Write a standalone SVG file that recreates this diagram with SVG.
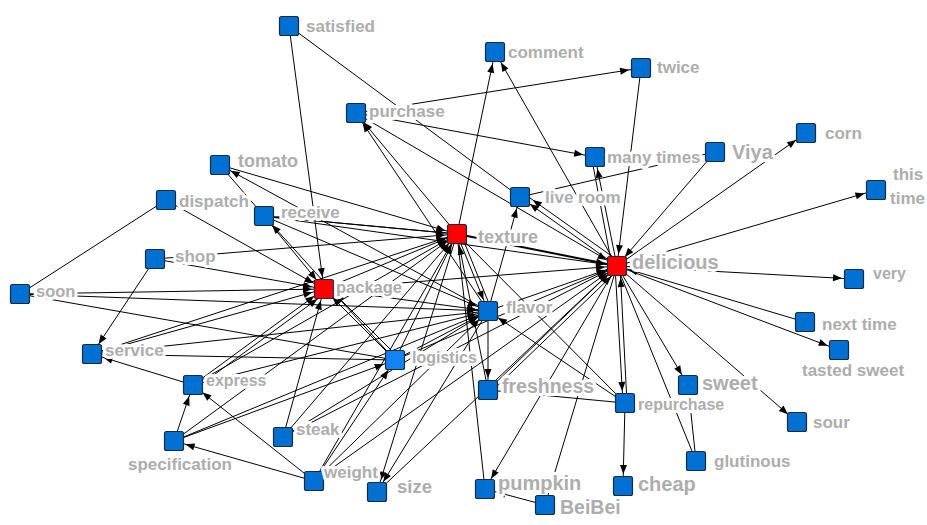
<svg xmlns="http://www.w3.org/2000/svg" width="927" height="525" viewBox="0 0 927 525">
<style>
.e{stroke:#000;stroke-width:1;fill:none}
.a{marker-end:url(#ah)}
.w{stroke-width:2}
rect.nd{stroke:#1c2a3a;stroke-width:1.2}
.b{fill:#0070d2}
.lb{fill:#1183f5}
.r{fill:#ff0000}
text{font-family:"Liberation Sans",Arial,sans-serif;font-weight:bold;font-size:17px;fill:#adadad;stroke:#fff;stroke-width:6;stroke-linejoin:round;paint-order:stroke}
.big{font-size:20px}
</style>
<defs>
<marker id="ah" markerUnits="userSpaceOnUse" markerWidth="24" markerHeight="10" refX="21" refY="0" orient="auto" overflow="visible"><path d="M0,-3.5 L9,0 L0,3.5 z" fill="#000"/></marker>
</defs>
<rect x="0" y="0" width="927" height="525" fill="#fff"/>
<g id="edges">
<line class="e a" x1="289" y1="26" x2="324" y2="289"/>
<line class="e" x1="289" y1="26" x2="520" y2="197"/>
<line class="e a" x1="356" y1="113" x2="641" y2="68"/>
<line class="e a" x1="356" y1="113" x2="595" y2="157"/>
<line class="e a" x1="457" y1="234" x2="356" y2="113"/>
<line class="e a" x1="488" y1="311" x2="356" y2="113"/>
<line class="e a" x1="356" y1="113" x2="617" y2="266"/>
<line class="e a" x1="457" y1="234" x2="495" y2="52"/>
<line class="e a" x1="617" y1="266" x2="495" y2="52"/>
<line class="e a" x1="641" y1="68" x2="617" y2="266"/>
<line class="e a" x1="617" y1="266" x2="595" y2="157"/>
<line class="e" x1="612" y1="266" x2="592" y2="160"/>
<line class="e" x1="715" y1="152" x2="520" y2="197"/>
<line class="e a" x1="715" y1="152" x2="617" y2="266"/>
<line class="e a" x1="617" y1="266" x2="806" y2="133"/>
<line class="e a" x1="617" y1="266" x2="876" y2="190"/>
<line class="e a" x1="617" y1="266" x2="854" y2="279"/>
<line class="e a" x1="805" y1="322" x2="617" y2="266"/>
<line class="e a" x1="617" y1="266" x2="839" y2="350"/>
<line class="e a" x1="617" y1="266" x2="688" y2="385"/>
<line class="e a" x1="617" y1="266" x2="797" y2="422"/>
<line class="e" x1="617" y1="266" x2="696" y2="461"/>
<line class="e" x1="688" y1="385" x2="696" y2="461"/>
<line class="e a" x1="615" y1="266" x2="623" y2="403"/>
<line class="e a" x1="627" y1="403" x2="620" y2="266"/>
<line class="e a" x1="625" y1="403" x2="623" y2="486"/>
<line class="e a" x1="625" y1="403" x2="488" y2="311"/>
<line class="e" x1="488" y1="390" x2="625" y2="403"/>
<line class="e" x1="457" y1="234" x2="625" y2="403"/>
<line class="e a" x1="488" y1="390" x2="617" y2="266"/>
<line class="e a" x1="491" y1="392" x2="620" y2="268"/>
<line class="e a" x1="617" y1="266" x2="485" y2="489"/>
<line class="e" x1="617" y1="266" x2="545" y2="505"/>
<line class="e a" x1="545" y1="505" x2="485" y2="489"/>
<line class="e" x1="457" y1="234" x2="485" y2="489"/>
<line class="e a" x1="457" y1="234" x2="377" y2="492"/>
<line class="e a" x1="488" y1="311" x2="377" y2="492"/>
<line class="e" x1="617" y1="266" x2="377" y2="492"/>
<line class="e a" x1="395" y1="360" x2="324" y2="289"/>
<line class="e a" x1="398" y1="357" x2="327" y2="286"/>
<line class="e a" x1="314" y1="481" x2="395" y2="360"/>
<line class="e" x1="92" y1="354" x2="395" y2="360"/>
<line class="e" x1="92" y1="354" x2="488" y2="311"/>
<line class="e a" x1="155" y1="259" x2="92" y2="354"/>
<line class="e a" x1="193" y1="385" x2="92" y2="354"/>
<line class="e a" x1="174" y1="441" x2="193" y2="385"/>
<line class="e a" x1="314" y1="481" x2="193" y2="385"/>
<line class="e a" x1="314" y1="481" x2="174" y2="441"/>
<line class="e a" x1="283" y1="437" x2="324" y2="289"/>
<line class="e a" x1="174" y1="441" x2="457" y2="234"/>
<line class="e a" x1="174" y1="441" x2="395" y2="360"/>
<line class="e a" x1="174" y1="441" x2="488" y2="311"/>
<line class="e a" x1="220" y1="165" x2="457" y2="234"/>
<line class="e a" x1="488" y1="311" x2="220" y2="165"/>
<line class="e" x1="220" y1="165" x2="264" y2="216"/>
<line class="e a" x1="457" y1="234" x2="264" y2="216"/>
<line class="e a" x1="264" y1="216" x2="324" y2="289"/>
<line class="e a" x1="395" y1="360" x2="264" y2="216"/>
<line class="e a" x1="166" y1="200" x2="324" y2="289"/>
<line class="e" x1="166" y1="200" x2="20" y2="294"/>
<line class="e a" x1="20" y1="294" x2="324" y2="289"/>
<line class="e" x1="20" y1="294" x2="395" y2="360"/>
<line class="e a" x1="155" y1="259" x2="324" y2="289"/>
<line class="e a" x1="155" y1="259" x2="457" y2="234"/>
<line class="e a" x1="92" y1="354" x2="324" y2="289"/>
<line class="e a" x1="193" y1="385" x2="488" y2="311"/>
<line class="e a" x1="193" y1="385" x2="324" y2="289"/>
<line class="e a" x1="196" y1="388" x2="327" y2="292"/>
<line class="e a" x1="488" y1="311" x2="520" y2="197"/>
<line class="e a" x1="617" y1="266" x2="520" y2="197"/>
<line class="e a" x1="620" y1="262" x2="523" y2="193"/>
<line class="e a w" x1="457" y1="234" x2="617" y2="266"/>
<line class="e a" x1="324" y1="289" x2="617" y2="266"/>
<line class="e a" x1="488" y1="311" x2="488" y2="390"/>
<line class="e a" x1="457" y1="234" x2="488" y2="311"/>
<line class="e" x1="461" y1="234" x2="492" y2="311"/>
<line class="e a" x1="324" y1="289" x2="488" y2="311"/>
<line class="e a" x1="324" y1="289" x2="457" y2="234"/>
<line class="e a" x1="264" y1="216" x2="488" y2="311"/>
<line class="e a" x1="264" y1="216" x2="617" y2="266"/>
<line class="e a" x1="283" y1="437" x2="457" y2="234"/>
<line class="e a" x1="283" y1="437" x2="488" y2="311"/>
<line class="e a" x1="314" y1="481" x2="457" y2="234"/>
<line class="e a" x1="314" y1="481" x2="488" y2="311"/>
<line class="e a" x1="395" y1="360" x2="457" y2="234"/>
<line class="e a" x1="395" y1="360" x2="488" y2="311"/>
<line class="e a" x1="395" y1="360" x2="617" y2="266"/>
<line class="e a" x1="193" y1="385" x2="457" y2="234"/>
<line class="e a" x1="488" y1="311" x2="617" y2="266"/>
<line class="e a" x1="488" y1="390" x2="457" y2="234"/>
<line class="e a" x1="20" y1="294" x2="488" y2="311"/>
<line class="e a" x1="264" y1="216" x2="457" y2="234"/>
<line class="e a" x1="92" y1="354" x2="457" y2="234"/>
<line class="e a" x1="283" y1="437" x2="617" y2="266"/>
<line class="e a" x1="314" y1="481" x2="617" y2="266"/>
</g>
<g id="n-satisfied"><rect class="nd b" x="279.5" y="16.5" width="19" height="19" rx="2"/><text x="306" y="32">satisfied</text></g>
<g id="n-comment"><rect class="nd b" x="485.5" y="42.5" width="19" height="19" rx="2"/><text x="508" y="58">comment</text></g>
<g id="n-twice"><rect class="nd b" x="631.5" y="58.5" width="19" height="19" rx="2"/><text x="657" y="73">twice</text></g>
<g id="n-purchase"><rect class="nd b" x="346.5" y="103.5" width="19" height="19" rx="2"/><text x="369" y="117">purchase</text></g>
<g id="n-many-times"><rect class="nd b" x="585.5" y="147.5" width="19" height="19" rx="2"/><text x="607" y="163">many times</text></g>
<g id="n-viya"><rect class="nd b" x="705.5" y="142.5" width="19" height="19" rx="2"/><text class="big" x="732" y="159">Viya</text></g>
<g id="n-corn"><rect class="nd b" x="796.5" y="123.5" width="19" height="19" rx="2"/><text x="825" y="139">corn</text></g>
<g id="n-this-time"><rect class="nd b" x="866.5" y="180.5" width="19" height="19" rx="2"/><text x="893" y="180">this</text><text x="890" y="204">time</text></g>
<g id="n-tomato"><rect class="nd b" x="210.5" y="155.5" width="19" height="19" rx="2"/><text x="238" y="167" style="font-size:18px">tomato</text></g>
<g id="n-dispatch"><rect class="nd b" x="156.5" y="190.5" width="19" height="19" rx="2"/><text x="179" y="207">dispatch</text></g>
<g id="n-receive"><rect class="nd b" x="254.5" y="206.5" width="19" height="19" rx="2"/><text x="281" y="218">receive</text></g>
<g id="n-live-room"><rect class="nd b" x="510.5" y="187.5" width="19" height="19" rx="2"/><text x="545" y="203">live room</text></g>
<g id="n-texture"><rect class="nd r" x="447.5" y="224.5" width="19" height="19" rx="2"/><text x="478" y="243" style="font-size:18px">texture</text></g>
<g id="n-shop"><rect class="nd b" x="145.5" y="249.5" width="19" height="19" rx="2"/><text x="175" y="262">shop</text></g>
<g id="n-soon"><rect class="nd b" x="10.5" y="284.5" width="19" height="19" rx="2"/><text x="36" y="297" style="font-size:16.5px">soon</text></g>
<g id="n-package"><rect class="nd r" x="314.5" y="279.5" width="19" height="19" rx="2"/><text x="336" y="293" style="font-size:16.5px">package</text></g>
<g id="n-delicious"><rect class="nd r" x="607.5" y="256.5" width="19" height="19" rx="2"/><text class="big" x="632" y="269">delicious</text></g>
<g id="n-very"><rect class="nd b" x="844.5" y="269.5" width="19" height="19" rx="2"/><text x="873" y="279" style="font-size:16px">very</text></g>
<g id="n-flavor"><rect class="nd b" x="478.5" y="301.5" width="19" height="19" rx="2"/><text x="506" y="313">flavor</text></g>
<g id="n-next-time"><rect class="nd b" x="795.5" y="312.5" width="19" height="19" rx="2"/><text x="822" y="330">next time</text></g>
<g id="n-tasted-sweet"><rect class="nd b" x="829.5" y="340.5" width="19" height="19" rx="2"/><text x="802" y="376">tasted sweet</text></g>
<g id="n-service"><rect class="nd b" x="82.5" y="344.5" width="19" height="19" rx="2"/><text x="105" y="356">service</text></g>
<g id="n-logistics"><rect class="nd lb" x="385.5" y="350.5" width="19" height="19" rx="2"/><text x="412" y="363" style="font-size:16px">logistics</text></g>
<g id="n-express"><rect class="nd b" x="183.5" y="375.5" width="19" height="19" rx="2"/><text x="206" y="386" style="font-size:16px">express</text></g>
<g id="n-freshness"><rect class="nd b" x="478.5" y="380.5" width="19" height="19" rx="2"/><text x="502" y="393" style="font-size:19.5px">freshness</text></g>
<g id="n-sweet"><rect class="nd b" x="678.5" y="375.5" width="19" height="19" rx="2"/><text class="big" x="702" y="390">sweet</text></g>
<g id="n-repurchase"><rect class="nd b" x="615.5" y="393.5" width="19" height="19" rx="2"/><text x="638" y="410" style="font-size:16px">repurchase</text></g>
<g id="n-specification"><rect class="nd b" x="164.5" y="431.5" width="19" height="19" rx="2"/><text x="128" y="470">specification</text></g>
<g id="n-steak"><rect class="nd b" x="273.5" y="427.5" width="19" height="19" rx="2"/><text x="296" y="435">steak</text></g>
<g id="n-sour"><rect class="nd b" x="787.5" y="412.5" width="19" height="19" rx="2"/><text x="813" y="428">sour</text></g>
<g id="n-glutinous"><rect class="nd b" x="686.5" y="451.5" width="19" height="19" rx="2"/><text x="714" y="467">glutinous</text></g>
<g id="n-weight"><rect class="nd b" x="304.5" y="471.5" width="19" height="19" rx="2"/><text x="324" y="478">weight</text></g>
<g id="n-size"><rect class="nd b" x="367.5" y="482.5" width="19" height="19" rx="2"/><text x="397" y="493" style="font-size:18.5px">size</text></g>
<g id="n-pumpkin"><rect class="nd b" x="475.5" y="479.5" width="19" height="19" rx="2"/><text class="big" x="498" y="490">pumpkin</text></g>
<g id="n-beibei"><rect class="nd b" x="535.5" y="495.5" width="19" height="19" rx="2"/><text x="560" y="514" style="font-size:19.5px">BeiBei</text></g>
<g id="n-cheap"><rect class="nd b" x="613.5" y="476.5" width="19" height="19" rx="2"/><text class="big" x="638" y="491">cheap</text></g>
</svg>
